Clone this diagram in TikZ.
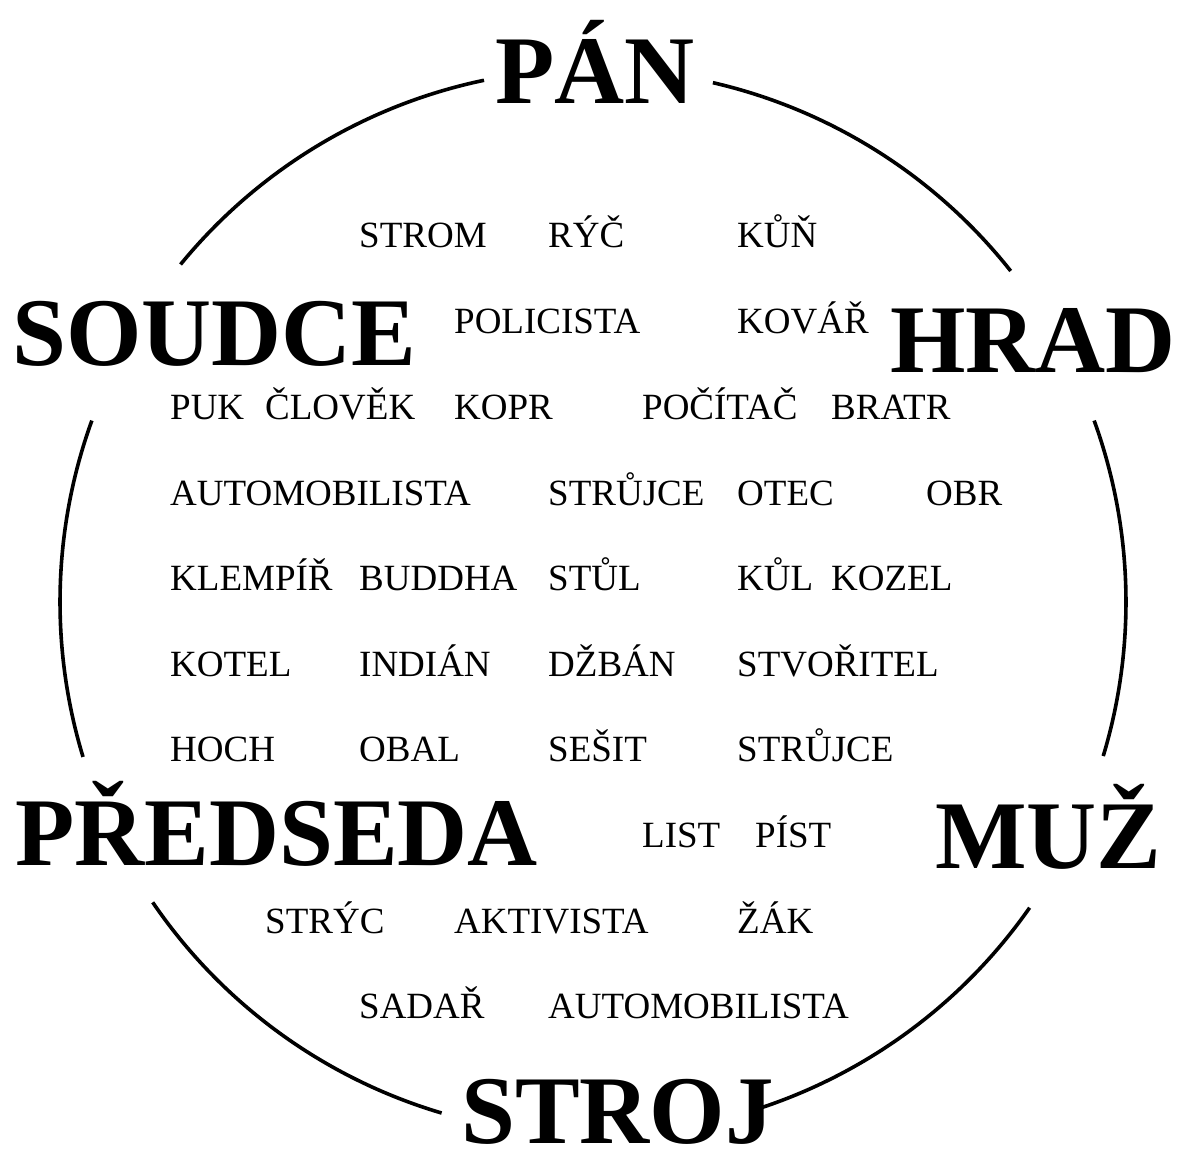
\documentclass[tikz,border=0pt]{standalone}
\usepackage{fontspec}
\setmainfont{Liberation Serif}

\begin{document}
\begin{tikzpicture}[
  x = 1pt, y = -1pt,
  % Words sit on their baselines; left edges follow a grid of columns.
  word/.style = {anchor=base west, inner sep=0pt, font=\fontsize{37}{44}\selectfont},
  big/.style  = {anchor=base west, inner sep=0pt, font=\fontsize{97}{110}\selectfont\bfseries},
  ring/.style = {line width=3.6pt},
]
\useasboundingbox (0, 0) rectangle (1181, 1162);

% --- the six words on the ring
\node[big] (pan)      at (495, 103)  {PÁN};
\node[big] (hrad)     at (890, 372)  {HRAD};
\node[big] (muz)      at (935, 868)  {MUŽ};
\node[big] (stroj)    at (461, 1143) {STROJ};
\node[big] (predseda) at (15, 865)   {PŘEDSEDA};
\node[big] (soudce)   at (12, 365)   {SOUDCE};

% --- ring, broken where the words stand
\coordinate (c) at (593, 602);
\draw[ring] ([shift={(-77.0:533)}]c)  arc[start angle=-77.0,  end angle=-38.4,  radius=533];
\draw[ring] ([shift={(-19.9:533)}]c)  arc[start angle=-19.9,  end angle=16.8,   radius=533];
\draw[ring] ([shift={(35.0:533)}]c)   arc[start angle=35.0,   end angle=71.5,   radius=533];
\draw[ring] ([shift={(106.5:533)}]c)  arc[start angle=106.5,  end angle=145.7,  radius=533];
\draw[ring] ([shift={(163.1:533)}]c)  arc[start angle=163.1,  end angle=199.9,  radius=533];
\draw[ring] ([shift={(219.3:533)}]c)  arc[start angle=219.3,  end angle=258.2,  radius=533];

% --- words inside, row by row
\node[word] (strom)     at (359, 247)   {STROM};
\node[word] (ryc)       at (548, 247)   {RÝČ};
\node[word] (kun)       at (737, 247)   {KŮŇ};

\node[word] (policista) at (454, 333)   {POLICISTA};
\node[word] (kovar)     at (737, 333)   {KOVÁŘ};

\node[word] (puk)       at (170, 419)   {PUK};
\node[word] (clovek)    at (265, 419)   {ČLOVĚK};
\node[word] (kopr)      at (454, 419)   {KOPR};
\node[word] (pocitac)   at (642, 419)   {POČÍTAČ};
\node[word] (bratr)     at (831, 419)   {BRATR};

\node[word] (autoA)     at (170, 505)   {AUTOMOBILISTA};
\node[word] (strujceA)  at (548, 505)   {STRŮJCE};
\node[word] (otec)      at (737, 505)   {OTEC};
\node[word] (obr)       at (926, 505)   {OBR};

\node[word] (klempir)   at (170, 590)   {KLEMPÍŘ};
\node[word] (buddha)    at (359, 590)   {BUDDHA};
\node[word] (stul)      at (548, 590)   {STŮL};
\node[word] (kul)       at (737, 590)   {KŮL};
\node[word] (kozel)     at (831, 590)   {KOZEL};

\node[word] (kotel)     at (170, 676)   {KOTEL};
\node[word] (indian)    at (359, 676)   {INDIÁN};
\node[word] (dzban)     at (548, 676)   {DŽBÁN};
\node[word] (stvoritel) at (737, 676)   {STVOŘITEL};

\node[word] (hoch)      at (170, 761)   {HOCH};
\node[word] (obal)      at (359, 761)   {OBAL};
\node[word] (sesit)     at (548, 761)   {SEŠIT};
\node[word] (strujceB)  at (737, 761)   {STRŮJCE};

\node[word] (list)      at (642, 847)   {LIST};
\node[word] (pist)      at (755, 847)   {PÍST};

\node[word] (stryc)     at (265, 933)   {STRÝC};
\node[word] (aktivista) at (454, 933)   {AKTIVISTA};
\node[word] (zak)       at (737, 933)   {ŽÁK};

\node[word] (sadar)     at (359, 1018)  {SADAŘ};
\node[word] (autoB)     at (548, 1018)  {AUTOMOBILISTA};

\end{tikzpicture}
\end{document}
